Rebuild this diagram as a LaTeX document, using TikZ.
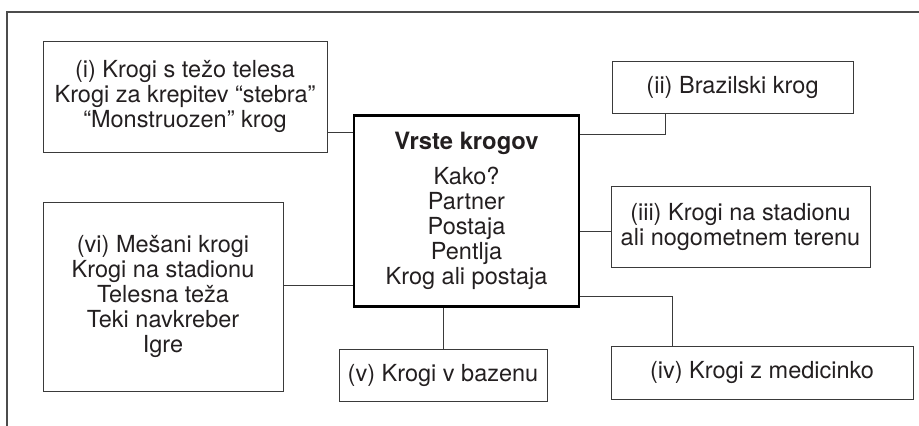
\documentclass[tikz,border=0pt]{standalone}
\usepackage{fontspec}
\setmainfont{TeX Gyre Heros}
\definecolor{ink}{HTML}{231F20}
\definecolor{rule}{HTML}{3A3A3A}
\begin{document}
\begin{tikzpicture}[x=1pt,y=-1pt,
  box/.style={draw=rule, line width=1pt, rectangle, inner sep=0pt, align=center,
    text=ink, font=\fontsize{23.5}{25}\selectfont},
  mainbox/.style={box, draw=black, line width=2.4pt},
  link/.style={draw=rule, line width=1pt},
  frame/.style={draw=black!70, line width=1.3pt}]
\useasboundingbox (0,0) rectangle (919,426);
\draw[frame] (7,426) -- (7,12) -- (919,12);

\node[mainbox, minimum width=225pt, minimum height=191pt] (c) at (466.5,211) {%
  {\bfseries\fontsize{23.8}{25}\selectfont Vrste krogov}\\[10.6pt]
  Kako?\\Partner\\Postaja\\Pentlja\\Krog ali postaja};

\node[box, minimum width=284pt, minimum height=111pt] (i) at (185,96.5)
  {(i) Krogi s težo telesa\\Krogi za krepitev “stebra”\\“Monstruozen” krog};
\node[box, minimum width=241pt, minimum height=52pt] (ii) at (732.5,87)
  {(ii) Brazilski krog};
\node[box, minimum width=259pt, minimum height=81pt] (iii) at (740.5,226.5)
  {(iii) Krogi na stadionu\\ali nogometnem terenu};
\node[box, minimum width=302pt, minimum height=53pt] (iv) at (762,372.5)
  {(iv) Krogi z medicinko};
\node[box, minimum width=208pt, minimum height=52pt] (v) at (443,375)
  {(v) Krogi v bazenu};
\node[box, minimum width=240pt, minimum height=189pt] (vi) at (163,296.5)
  {(vi) Mešani krogi\\Krogi na stadionu\\Telesna teža\\Teki navkreber\\Igre};

\draw[link] (i.east |- 0,132) -- (c.west |- 0,132);
\draw[link] (c.east |- 0,134) -| (ii.south -| 665,0);
\draw[link] (c.east |- 0,231) -- (iii.west |- 0,231);
\draw[link] (c.east |- 0,296) -| (iv.north -| 672,0);
\draw[link] (v.north) -- (v.north |- c.south);
\draw[link] (vi.east |- 0,285) -- (c.west |- 0,285);
\end{tikzpicture}
\end{document}
